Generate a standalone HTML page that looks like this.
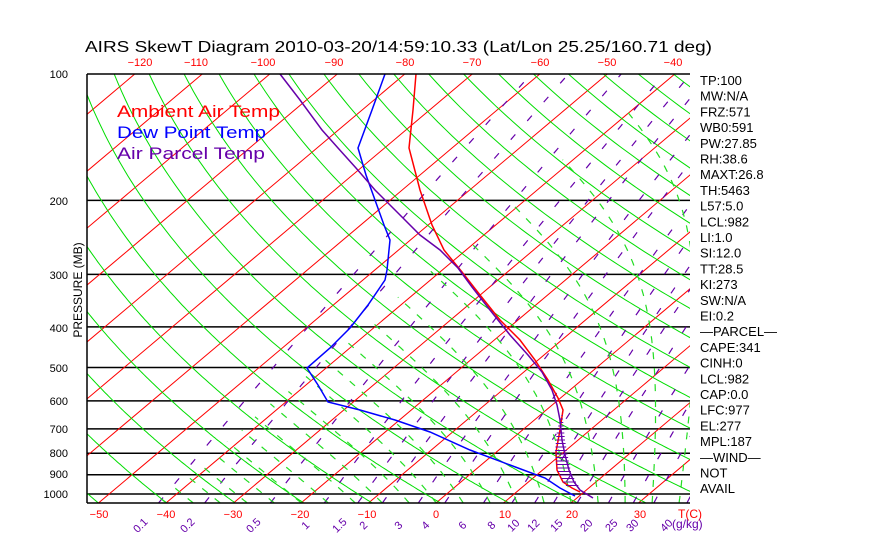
<!DOCTYPE html>
<html><head><meta charset="utf-8"><style>
body{margin:0;background:#fff;width:870px;height:560px;overflow:hidden}
svg{display:block}
text{font-family:"Liberation Sans",sans-serif}
</style></head><body>
<svg id="s" width="870" height="560" xmlns="http://www.w3.org/2000/svg">
<defs><clipPath id="c"><rect x="87" y="74" width="603" height="429"/></clipPath></defs>
<g id="grid" clip-path="url(#c)"></g>
<g id="snd"></g>
<g id="lab"></g>
</svg>
<script>
var NS="http://www.w3.org/2000/svg";
function Y(p){return 74+182.4*Math.log(p/100);}
function X(T,p){var y=Y(p);return 436+6.75*T+(503-y)*1.186;}
function el(par,tag,a,txt){var e=document.createElementNS(NS,tag);for(var k in a)e.setAttribute(k,a[k]);if(txt!=null)e.textContent=txt;document.getElementById(par).appendChild(e);return e;}
function poly(par,pts,col,w,dash){if(pts.length<2)return;var d=pts.map(function(q){return q[0].toFixed(1)+","+q[1].toFixed(1)}).join(" ");var a={points:d,fill:"none",stroke:col,"stroke-width":w};if(dash)a["stroke-dasharray"]=dash;el(par,"polyline",a);}
var ps=[];for(var p=1050;p>=100;p-=5)ps.push(p);
[200,300,400,500,600,700,800,900,1000].forEach(function(p){el("grid","line",{x1:87,x2:690,y1:Y(p),y2:Y(p),stroke:"#000","stroke-width":1.5});});
for(var T=-160;T<=40;T+=10){poly("grid",[[X(T,1050),Y(1050)],[X(T,100),Y(100)]],"#f00",1);}
for(var th=180;th<=520;th+=10){var pts=ps.map(function(p){return [X(th*Math.pow(p/1000,0.286)-273.15,p),Y(p)]});poly("grid",pts,"#0d0",1);}
function Td(w,p){var e=w*p/(622+w);var l=Math.log(e/6.112);return 243.5*l/(17.67-l);}
[0.1,0.2,0.5,1,1.5,2,3,4,6,8,10,12,15,20,25,30,40].forEach(function(w){var pts=[];for(var p=1050;p>=100;p-=10)pts.push([X(Td(w,p),p),Y(p)]);poly("grid",pts,"#60a",1.2,"7,18");});
function es(T){return 6.112*Math.exp(17.67*T/(T+243.5));}
for(var T0=-40;T0<=40;T0+=4){var T=T0,pts=[];for(var p=1050;p>=100;p-=5){if(T<-42)break;pts.push([X(T,p),Y(p)]);var Tk=T+273.15,rs=0.622*es(T)/(p-es(T));var dTdp=(287*Tk+2.5e6*rs)/(p*(1004+2.5e6*2.5e6*rs*0.622/(287*Tk*Tk)));T-=dTdp*5;}
poly("grid",pts,"#2d2",1.2,"7,9");}
el("lab","line",{x1:87,x2:87,y1:74,y2:503,stroke:"#000","stroke-width":1.5});
el("lab","line",{x1:87,x2:690,y1:74,y2:74,stroke:"#000","stroke-width":1.5});
el("lab","line",{x1:87,x2:690,y1:503,y2:503,stroke:"#000","stroke-width":1.5});
poly("snd",[[416,74],[413,110],[409,148],[420,190],[432,225],[444,250],[462,272],[480,295],[500,320],[520,340],[535,360],[548,380],[558,398],[563,410],[560,430],[556,452],[557,470],[563,482],[572,488],[580,492]],"#f00",1.5);
poly("snd",[[385,74],[372,110],[358,148],[366,175],[375,200],[384,225],[390,240],[387,270],[385,280],[368,305],[350,328],[330,348],[307,368],[318,385],[328,402],[360,410],[395,420],[430,432],[470,450],[510,465],[545,478],[560,488],[575,496]],"#00f",1.5);
poly("snd",[[280,74],[300,100],[322,130],[338,148],[356,168],[375,190],[400,215],[420,235],[440,250],[458,268],[472,287],[490,310],[510,335],[528,355],[542,372],[552,390],[557,405],[560,420],[562,440],[565,455],[569,470],[574,482],[580,490],[593,498]],"#60a",1.5);
var L=[[410,563,560],[420,560,561],[430,557,562],[440,556,563],[452,555,565],[462,556,567],[472,558,569],[482,563,574],[488,568,578]];
for(var y=412;y<=490;y+=3.5){var a=null,b;for(var i=0;i<L.length-1;i++){if(y>=L[i][0]&&y<=L[i+1][0]){var f=(y-L[i][0])/(L[i+1][0]-L[i][0]);a=L[i][1]+f*(L[i+1][1]-L[i][1]);b=L[i][2]+f*(L[i+1][2]-L[i][2]);}}
if(a!=null)el("snd","line",{x1:a,x2:b+2,y1:y,y2:y,stroke:"#60a","stroke-width":1});}
el("lab","text",{x:85,y:52,"font-size":16,fill:"#000",textLength:627,lengthAdjust:"spacingAndGlyphs"},"AIRS SkewT Diagram 2010-03-20/14:59:10.33 (Lat/Lon 25.25/160.71 deg)");
[[-120,140],[-110,196],[-100,263],[-90,334],[-80,405],[-70,472],[-60,540],[-50,607],[-40,673]].forEach(function(a){el("lab","text",{x:a[1],y:66,"font-size":11,fill:"#f00","text-anchor":"middle"},"\u2212"+(-a[0]));});
[[-50,99],[-40,166],[-30,233],[-20,300],[-10,367],[0,436],[10,505],[20,572],[30,640]].forEach(function(a){el("lab","text",{x:a[1],y:518,"font-size":11,fill:"#f00","text-anchor":"middle"},a[0]<0?"\u2212"+(-a[0]):""+a[0]);});
el("lab","text",{x:678,y:518,"font-size":12,fill:"#f00"},"T(C)");
[[100,74],[200,201],[300,275],[400,328],[500,368],[600,401],[700,429],[800,453],[900,474],[1000,494]].forEach(function(a){el("lab","text",{x:68,y:a[1]+4,"font-size":11,fill:"#000","text-anchor":"end"},a[0]);});
el("lab","text",{x:82,y:290,"font-size":12,fill:"#000","text-anchor":"middle",transform:"rotate(-90 82 290)"},"PRESSURE (MB)");
[["0.1",143],["0.2",190],["0.5",256],["1",308],["1.5",342],["2",366],["3",401],["4",428],["6",465],["8",494],["10",516],["12",536],["15",559],["20",589],["25",614],["30",635],["40",669]].forEach(function(a){el("lab","text",{x:a[1],y:528,"font-size":11,fill:"#60a","text-anchor":"middle",transform:"rotate(-45 "+a[1]+" 528)"},a[0]);});
el("lab","text",{x:672,y:528,"font-size":12,fill:"#60a"},"(g/kg)");
el("lab","text",{x:117,y:117,"font-size":17,fill:"#f00",textLength:163,lengthAdjust:"spacingAndGlyphs"},"Ambient Air Temp");
el("lab","text",{x:117,y:138,"font-size":17,fill:"#00f",textLength:149,lengthAdjust:"spacingAndGlyphs"},"Dew Point Temp");
el("lab","text",{x:117,y:159,"font-size":17,fill:"#60a",textLength:148,lengthAdjust:"spacingAndGlyphs"},"Air Parcel Temp");
var R=["TP:100","MW:N/A","FRZ:571","WB0:591","PW:27.85","RH:38.6","MAXT:26.8","TH:5463","L57:5.0","LCL:982","LI:1.0","SI:12.0","TT:28.5","KI:273","SW:N/A","EI:0.2","\u2014PARCEL\u2014","CAPE:341","CINH:0","LCL:982","CAP:0.0","LFC:977","EL:277","MPL:187","\u2014WIND\u2014"," NOT","AVAIL"];
R.forEach(function(t,i){el("lab","text",{x:700,y:85+i*15.7,"font-size":13,fill:"#000"},t);});
</script>
</body></html>
